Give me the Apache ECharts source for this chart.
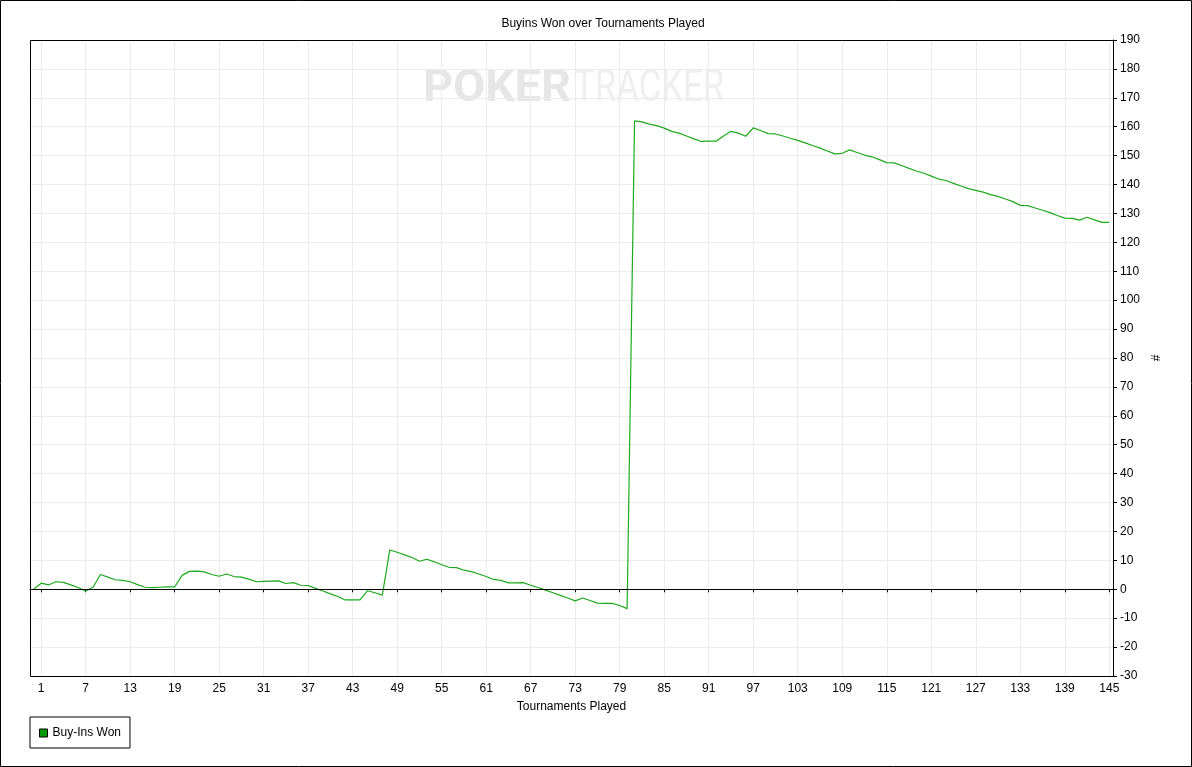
<!DOCTYPE html>
<html>
<head>
<meta charset="utf-8">
<script src="https://cdn.jsdelivr.net/npm/echarts@6/dist/echarts.min.js"></script>
<style>
html,body{margin:0;padding:0;background:#fff;}
#chart{width:1192px;height:767px;}
</style>
</head>
<body>
<div id="chart"></div>
<script>
// Tournaments 0..145
var tournaments = Array.from({length: 146}, function (_, i) { return String(i); });
var buyInsWon = [
  0, 2.1, 1.5, 2.6, 2.4, 1.5, 0.6, -0.6, 0.7, 5.1,
  4.2, 3.3, 3.1, 2.6, 1.6, 0.7, 0.6, 0.7, 0.8, 0.8,
  4.8, 6.2, 6.3, 6.0, 5.1, 4.5, 5.3, 4.4, 4.2, 3.5,
  2.6, 2.7, 2.8, 2.9, 2.0, 2.3, 1.4, 1.3, 0.3, -0.6,
  -1.6, -2.5, -3.7, -3.7, -3.7, -0.5, -1.2, -2.0, 13.6, 12.8,
  11.9, 11.0, 9.7, 10.4, 9.5, 8.5, 7.6, 7.5, 6.6, 6.1,
  5.3, 4.4, 3.4, 3.1, 2.2, 2.2, 2.3, 1.4, 0.6, -0.3,
  -1.2, -2.1, -3.0, -4.0, -3.0, -3.9, -4.8, -4.9, -4.9, -5.6,
  -6.7, 162.0, 161.7, 160.9, 160.4, 159.5, 158.4, 157.8, 156.8, 155.8,
  154.9, 155.0, 155.0, 156.8, 158.4, 157.8, 156.7, 159.6, 158.7, 157.6,
  157.5, 156.8, 156.0, 155.3, 154.4, 153.5, 152.6, 151.6, 150.6, 150.8,
  152.0, 151.1, 150.2, 149.6, 148.6, 147.6, 147.5, 146.6, 145.6, 144.7,
  143.9, 142.9, 141.9, 141.4, 140.4, 139.5, 138.6, 138.0, 137.4, 136.5,
  135.9, 135.0, 134.1, 132.8, 132.7, 131.9, 131.1, 130.3, 129.3, 128.4,
  128.3, 127.7, 128.7, 127.8, 126.9, 126.9
];
var titleText = 'Buyins Won over Tournaments Played';
var seriesName = 'Buy-Ins Won';
var xAxisName = 'Tournaments Played';
var yAxisName = '#';
var yMin = -30, yMax = 190, yStep = 10;

var FONT = '"Liberation Sans", Arial, sans-serif';
function every6(index) { return (index - 1) % 6 === 0 && index >= 1; }

var chart = echarts.init(document.getElementById('chart'), null, {renderer: 'canvas'});
chart.setOption({
  animation: false,
  backgroundColor: '#fff',
  textStyle: {fontFamily: FONT},
  graphic: [
    {type: 'rect', silent: true, z: 100, shape: {x: 0.5, y: 0.5, width: 1191, height: 766},
     style: {fill: 'none', stroke: '#000', lineWidth: 1}},
    {type: 'rect', silent: true, z: 100, shape: {x: 30.5, y: 40.5, width: 1083, height: 636},
     style: {fill: 'none', stroke: '#000', lineWidth: 1}},
    {type: 'text', silent: true, x: 603, y: 23.5, z: 100,
     style: {text: titleText, fill: '#000', font: '12px ' + FONT, textAlign: 'center', textVerticalAlign: 'middle'}},
    {type: 'text', silent: true, x: 423, y: 90, z: -10, scaleX: 1.06,
     style: {text: 'POKER', fill: '#e6e6e6', font: 'bold 44px Roboto', textAlign: 'left', textVerticalAlign: 'middle'}},
    {type: 'text', silent: true, x: 574, y: 90, z: -10, scaleX: 0.79,
     style: {text: 'TRACKER', fill: '#efefef', font: '44px Roboto', textAlign: 'left', textVerticalAlign: 'middle'}}
  ],
  legend: {
    left: 30, top: 717,
    padding: [10, 9, 9, 9],
    borderColor: '#000', borderWidth: 1,
    itemWidth: 8, itemHeight: 8,
    textStyle: {color: '#000', fontSize: 12, fontFamily: FONT},
    data: [{name: seriesName, icon: 'rect', itemStyle: {color: '#009900', borderColor: '#000', borderWidth: 1}}]
  },
  grid: {
    left: 30, top: 40, width: 1083, height: 636,
    show: false,
    containLabel: false
  },
  xAxis: {
    type: 'category',
    data: tournaments,
    boundaryGap: true,
    name: xAxisName,
    nameLocation: 'middle',
    nameGap: 25,
    nameTextStyle: {color: '#000', fontSize: 12, fontFamily: FONT},
    axisLine: {show: true, lineStyle: {color: '#000', width: 1}},
    axisTick: {show: true, alignWithLabel: true, interval: every6, length: 3, lineStyle: {color: '#000'}},
    axisLabel: {show: true, interval: every6, margin: 7, color: '#000', fontSize: 12, fontFamily: FONT},
    splitLine: {show: true, interval: every6, alignWithLabel: true, lineStyle: {color: '#ececec', width: 1}}
  },
  yAxis: {
    type: 'value',
    position: 'right',
    min: yMin, max: yMax, interval: yStep,
    name: yAxisName,
    nameLocation: 'middle',
    nameGap: 38,
    nameTextStyle: {color: '#000', fontSize: 12, fontFamily: FONT},
    axisLine: {show: true, lineStyle: {color: '#000', width: 1}},
    axisTick: {show: true, length: 4, lineStyle: {color: '#000'}},
    axisLabel: {show: true, margin: 7, color: '#000', fontSize: 12, fontFamily: FONT},
    splitLine: {show: true, lineStyle: {color: '#ececec', width: 1}}
  },
  series: [{
    name: seriesName,
    type: 'line',
    data: buyInsWon,
    showSymbol: false,
    symbol: 'none',
    lineStyle: {color: '#1caa1c', width: 1.2},
    itemStyle: {color: '#009900'},
    emphasis: {disabled: true},
    markLine: {
      silent: true,
      symbol: 'none',
      label: {show: false},
      lineStyle: {color: '#000', type: 'solid', width: 1},
      emphasis: {disabled: true},
      data: [{yAxis: 0}]
    },
    z: 3
  }]
});
</script>
</body>
</html>
